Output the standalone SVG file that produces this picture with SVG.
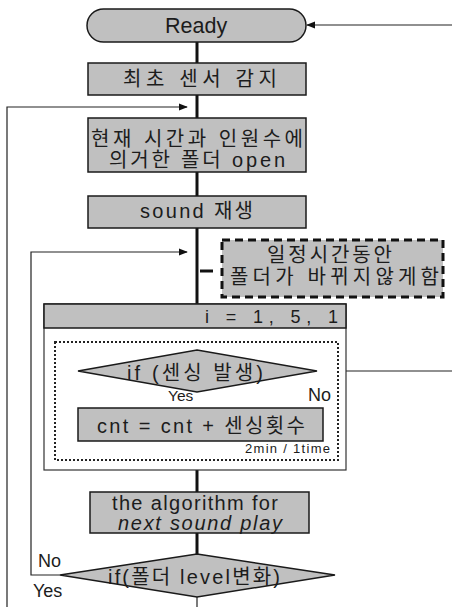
<svg xmlns="http://www.w3.org/2000/svg" width="452" height="607" viewBox="0 0 452 607">
<defs>
<style>
.box{fill:#c0c0c0;stroke:#1a1a1a;stroke-width:1.5}
.main{stroke:#111;stroke-width:3;fill:none}
.thin{stroke:#222;stroke-width:1.2;fill:none}
.t{font-family:"Liberation Sans","Noto Sans CJK KR",sans-serif;fill:#1c1c1c;text-anchor:start}
.k{font-size:20px}
.s{font-size:18px}
</style>
<marker id="ah" viewBox="0 0 10 10" refX="9" refY="5" markerWidth="9" markerHeight="9" markerUnits="userSpaceOnUse" orient="auto">
<path d="M0,1 L10,5 L0,9 Z" fill="#111"/>
</marker>
</defs>
<g id="connectors">
<line class="main" x1="197" y1="42" x2="197" y2="63"/>
<line class="main" x1="197" y1="95" x2="197" y2="118"/>
<line class="main" x1="197" y1="172" x2="197" y2="196"/>
<line class="main" x1="197" y1="228" x2="197" y2="304"/>
<line class="main" x1="197" y1="328" x2="197" y2="350"/>
<line class="main" x1="197" y1="392" x2="197" y2="408"/>
<line class="main" x1="197" y1="470" x2="197" y2="492"/>
<line class="main" x1="197" y1="533" x2="197" y2="554"/>
<line class="thin" x1="197" y1="597" x2="197" y2="607"/>
<polyline class="thin" points="7,607 7,107 187,107" marker-end="url(#ah)"/>
<polyline class="thin" points="60,575 31,575 31,252 187,252" marker-end="url(#ah)"/>
<line class="thin" x1="452" y1="25" x2="307" y2="25" marker-end="url(#ah)"/>
<line class="thin" x1="317" y1="371" x2="452" y2="371"/>
<line class="main" x1="200" y1="271" x2="213" y2="271"/>
</g>
<g id="ready">
<rect class="box" x="87" y="9" width="219" height="33" rx="16.5"/>
<text class="t" x="165" y="33" font-size="21.5">Ready</text>
</g>
<g id="first-sensor">
<rect class="box" x="88" y="63" width="218" height="32"/>
<text class="t k" x="123" y="86" textLength="154">최초 센서 감지</text>
</g>
<g id="folder-open">
<rect class="box" x="88" y="118" width="218" height="54"/>
<text class="t k" x="91" y="146" textLength="212">현재 시간과 인원수에</text>
<text class="t k" x="109" y="167" textLength="176">의거한 폴더 open</text>
</g>
<g id="sound-play">
<rect class="box" x="88" y="196" width="218" height="32"/>
<text class="t k" x="140" y="218" textLength="113">sound 재생</text>
</g>
<g id="note">
<rect x="222" y="240" width="221" height="57" fill="#c0c0c0" stroke="#111" stroke-width="3" stroke-dasharray="8,5"/>
<text class="t k" x="267" y="262" textLength="125">일정시간동안</text>
<text class="t k" x="230" y="284" textLength="209">폴더가 바뀌지않게함</text>
</g>
<g id="loop">
<rect x="44" y="304" width="302" height="166" fill="#fff" stroke="#333" stroke-width="1.2"/>
<rect class="box" x="44" y="304" width="302" height="24" stroke-width="1.2"/>
<text class="t" x="205" y="323" font-size="18" textLength="133">i = 1, 5, 1</text>
</g>
<g id="sensing-block">
<rect x="55" y="342" width="283" height="118" fill="none" stroke="#222" stroke-width="2" stroke-dasharray="2,2"/>
</g>
<g id="if-sensing">
<polygon class="box" points="197,350 317,371 197,392 78,371"/>
<text class="t k" x="127" y="380" textLength="136">if (센싱 발생)</text>
<text class="t" x="168" y="401" font-size="15.5">Yes</text>
<text class="t" x="308" y="401" font-size="18">No</text>
</g>
<g id="cnt">
<rect class="box" x="78" y="408" width="245" height="33"/>
<text class="t k" x="97" y="433" textLength="208">cnt = cnt + 센싱횟수</text>
<text class="t" x="245" y="453" font-size="13" textLength="85">2min / 1time</text>
</g>
<g id="algorithm">
<rect class="box" x="90" y="492" width="219" height="41"/>
<text class="t k" x="112" y="510" textLength="166">the algorithm for</text>
<text class="t k" x="118" y="530" font-style="italic" textLength="164">next sound play</text>
</g>
<g id="if-level">
<polygon class="box" points="197,554 335,575 197,597 60,575"/>
<text class="t k" x="108" y="584" textLength="172">if(폴더 level변화)</text>
<text class="t s" x="38" y="567">No</text>
<text class="t s" x="33" y="597">Yes</text>
</g>
</svg>
